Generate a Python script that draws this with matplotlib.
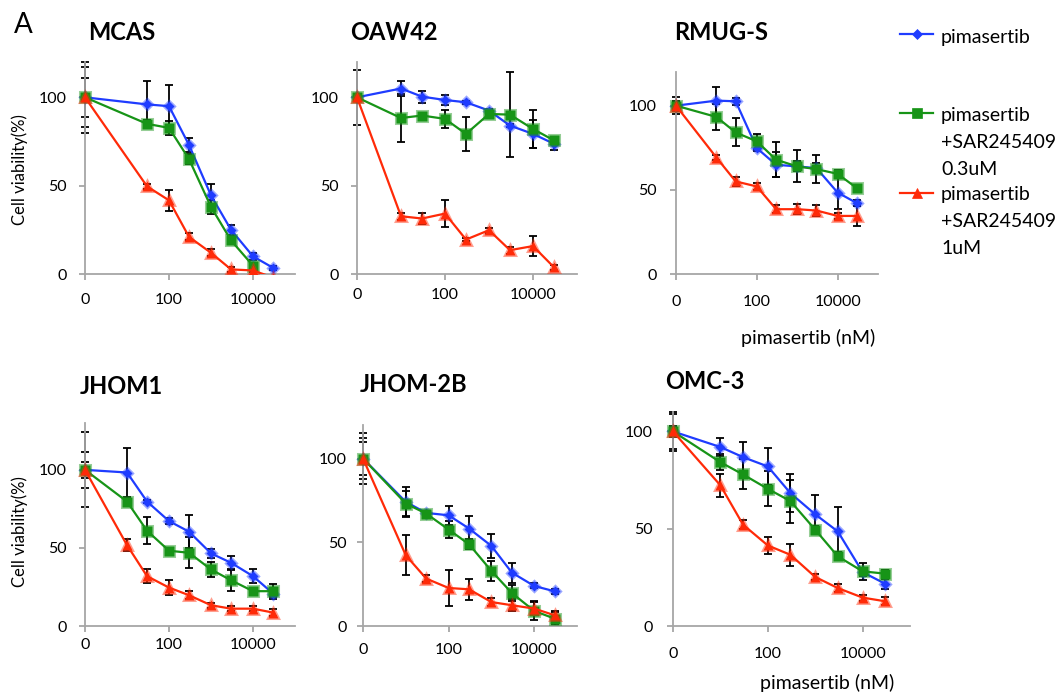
import matplotlib
matplotlib.use('Agg')
import numpy as np
import matplotlib.pyplot as plt
import matplotlib.colors as mcolors
from matplotlib.lines import Line2D
from matplotlib.patches import Rectangle

W, H = 1059, 695
plt.rcParams['font.family'] = ['Lato', 'DejaVu Sans']

# doses (nM); 0 is drawn at the left end of the log axis
doses = [0, 10, 30, 100, 300, 1000, 3000, 10000, 30000]
doses_mcas = [0, 30, 100, 300, 1000, 3000, 10000, 30000]

series_labels = ['pimasertib',
                 'pimasertib\n+SAR245409\n0.3uM',
                 'pimasertib\n+SAR245409\n1uM']
cell_lines = ['MCAS', 'OAW42', 'RMUG-S', 'JHOM1', 'JHOM-2B', 'OMC-3']

# cell viability (%) : pimasertib / +SAR 0.3uM / +SAR 1uM, with error bars
mcas_pim = [100, 96, 95, 73, 44.5, 25, 10, 3.5]
mcas_pim_err = [20, 13, 12, 4, 6.5, 3, 2, 1]
mcas_low = [100, 85, 82.7, 65, 38, 19, 4.7, np.nan]
mcas_low_err = [17, 2, 4, 3, 4, 2, 1, 0]
mcas_high = [100, 49.6, 41.7, 21, 12, 2.6, 2, -2]
mcas_high_err = [11, 1.5, 6, 2, 2, 1.5, 1, 0]

oaw42_pim = [100, 105, 100.4, 98.5, 97.2, 92.5, 84, 79.3, 73.7]
oaw42_pim_err = [15.4, 4, 3.4, 3, 1, 1, 1, 8, 3.7]
oaw42_low = [100, 88.3, 89.7, 87.8, 79.3, 90.6, 90.2, 82.1, 75.6]
oaw42_low_err = [2, 13.7, 1, 5, 9.5, 1, 24, 11, 1]
oaw42_high = [100, 32.7, 31.4, 34.2, 19.5, 24.8, 13.5, 15.8, 3.8]
oaw42_high_err = [2, 2, 3, 7.5, 1, 1.5, 2, 5.6, 1.5]

rmug_pim = [100, 103, 102.6, 74.8, 64.9, 63.9, 62.9, 48.4, 42.1]
rmug_pim_err = [5, 8, 2, 2, 7.5, 3, 3, 10, 2]
rmug_low = [100, 93.3, 84.1, 78.8, 67.9, 63.9, 62.3, 59.5, 51]
rmug_low_err = [3, 7.6, 8.3, 4.5, 10.3, 9.5, 8.2, 2.4, 2]
rmug_high = [100, 69.2, 55, 52, 38.5, 38.5, 37.7, 34.5, 34.5]
rmug_high_err = [2, 1.5, 2.5, 2, 2.5, 3, 3.5, 2, 6]

jhom1_pim = [100, 98.3, 79.7, 67.2, 60.4, 46.5, 40.5, 31.9, 20.8]
jhom1_pim_err = [24, 15.6, 1, 2, 10.6, 3, 4.5, 4.5, 2]
jhom1_low = [100, 79.7, 61, 48.2, 46.9, 36.2, 29.3, 22.3, 22.3]
jhom1_low_err = [11.5, 1, 8.5, 1, 10, 5, 7, 2, 4.7]
jhom1_high = [100, 51.8, 31.9, 24.6, 19.7, 13.3, 11.1, 11.1, 8.6]
jhom1_high_err = [5, 4, 4.5, 4.7, 2.5, 1.5, 1.5, 1.5, 2]

jhom2b_pim = [100, 74.1, 67.5, 66.1, 58.2, 47.8, 31.9, 23.9, 20.7]
jhom2b_pim_err = [15.3, 9, 1, 5.6, 7.7, 7, 6, 1.5, 1.5]
jhom2b_low = [100, 73.1, 67.1, 57.6, 48.8, 32.9, 19.7, 9, 4.4]
jhom2b_low_err = [12.4, 7.5, 1, 5, 3, 6, 5, 5.7, 4]
jhom2b_high = [100, 42.2, 28.3, 22.7, 21.9, 14.3, 12.4, 10.4, 6.4]
jhom2b_high_err = [10, 12, 2, 10.7, 6.4, 2.5, 3.5, 4, 2.5]

omc3_pim = [100, 92, 86.8, 82, 68.3, 57.4, 48.6, 27.7, 21.7]
omc3_pim_err = [10, 4.6, 8, 9.6, 9.6, 9.7, 12.5, 2, 2.5]
omc3_low = [100, 84.2, 77.9, 70.5, 64.2, 49.5, 35.8, 28.1, 26.9]
omc3_low_err = [9, 4, 7.7, 9, 11, 2, 2, 4.3, 2]
omc3_high = [100, 72.3, 52.1, 41.4, 36.6, 25.2, 19.5, 14.6, 12.7]
omc3_high_err = [3, 6, 2.2, 4.3, 5.8, 1.5, 2, 1.5, 2]

colors = ['#1f3cff', '#179417', '#ff2a08']
markers = ['D', 's', '^']
msizes = [5.5, 7.5, 7.5]

# panel boxes in pixels: left, top, right, bottom ; y max ; tick pads ; title spot
panels = [
    (cell_lines[0], doses_mcas, [(mcas_pim, mcas_pim_err), (mcas_low, mcas_low_err), (mcas_high, mcas_high_err)],
     (85, 62, 295, 274), 120, 9.4, 8.5, (88, 33)),
    (cell_lines[1], doses, [(oaw42_pim, oaw42_pim_err), (oaw42_low, oaw42_low_err), (oaw42_high, oaw42_high_err)],
     (357, 62, 577, 274), 120, 5.8, 8.5, (350, 33)),
    (cell_lines[2], doses, [(rmug_pim, rmug_pim_err), (rmug_low, rmug_low_err), (rmug_high, rmug_high_err)],
     (676, 72, 878, 274), 120, 10.8, 9.5, (674, 33)),
    (cell_lines[3], doses, [(jhom1_pim, jhom1_pim_err), (jhom1_low, jhom1_low_err), (jhom1_high, jhom1_high_err)],
     (85, 423, 295, 626), 130, 4.3, 8.5, (80, 387)),
    (cell_lines[4], doses, [(jhom2b_pim, jhom2b_pim_err), (jhom2b_low, jhom2b_low_err), (jhom2b_high, jhom2b_high_err)],
     (363, 425, 577, 626), 120, 7.9, 7.0, (360, 385)),
    (cell_lines[5], doses, [(omc3_pim, omc3_pim_err), (omc3_low, omc3_low_err), (omc3_high, omc3_high_err)],
     (673, 412, 910, 626), 110, 10.8, 10.0, (665, 382)),
]

axis_grey = '#a6a6a6'

fig = plt.figure(figsize=(W / 100, H / 100), dpi=100)


def clip_to(artist, ax):
    # clip below the x axis only, so points at dose 0 keep their full marker
    rect = Rectangle((-0.1, 0), 1.2, 1.3, transform=ax.transAxes)
    artist.set_clip_path(rect)


for name, d, data, box, ymax, xpad, ypad, title_xy in panels:
    l, t, r, b = box
    ax = fig.add_axes([l / W, 1 - b / H, (r - l) / W, (b - t) / H])
    x = [v if v > 0 else 1 for v in d]
    ax.set_xscale('log')
    ax.set_xlim(1, 1e5)
    ax.set_ylim(0, ymax)

    for i, (y, e) in enumerate(data):
        cont = ax.errorbar(x, y, yerr=e, fmt='none', ecolor='black', elinewidth=1.3,
                           capsize=3.2, capthick=1.3, zorder=2)
        for art in list(cont.lines[1]) + list(cont.lines[2]):
            clip_to(art, ax)
        c = colors[i]
        ln, = ax.plot(x, y, color=c, lw=1.6, marker=markers[i], ms=msizes[i],
                      mfc=c, mec=mcolors.to_rgba(c, 0.45), mew=2.2, zorder=3 + i)
        clip_to(ln, ax)

    for side in ['top', 'right']:
        ax.spines[side].set_visible(False)
    for side in ['left', 'bottom']:
        ax.spines[side].set_color(axis_grey)
        ax.spines[side].set_linewidth(1.3)

    ax.set_xticks([1, 100, 10000])
    ax.set_xticklabels(['0', '100', '10000'])
    ax.xaxis.set_minor_locator(matplotlib.ticker.NullLocator())
    ax.set_yticks([0, 50, 100])
    ax.tick_params(axis='x', length=4, width=1.3, color=axis_grey, pad=xpad, labelsize=11.5)
    ax.tick_params(axis='y', length=4.5, width=1.3, color=axis_grey, pad=ypad, labelsize=11.5)

    fig.text(title_xy[0] / W, 1 - title_xy[1] / H, name, fontsize=17, fontweight='bold',
             ha='left', va='center')

fig.text(14 / W, 1 - 25 / H, 'A', fontsize=20, ha='left', va='center')

for yc in [170, 532]:
    fig.text(20 / W, 1 - yc / H, 'Cell viability(%)', rotation=90, fontsize=12,
             ha='center', va='center')

for xc, yc in [(808, 338), (827, 683)]:
    fig.text(xc / W, 1 - yc / H, 'pimasertib (nM)', fontsize=14, ha='center', va='center')

# legend, drawn by hand so the marker sits on the first text line
leg_y = [34, 113, 193]
leg_base = [43, 121, 200]
line_step = 27
for i, lab in enumerate(series_labels):
    yy = 1 - leg_y[i] / H
    c = colors[i]
    fig.add_artist(Line2D([900 / W, 933 / W], [yy, yy], color=c, lw=1.6))
    fig.add_artist(Line2D([916.5 / W], [yy], marker=markers[i], ms=msizes[i], color=c,
                          mec=c, mew=0.5))
    for k, part in enumerate(lab.split('\n')):
        fig.text(941 / W, 1 - (leg_base[i] + k * line_step) / H, part, fontsize=14,
                 ha='left', va='baseline')

fig.savefig('out.png', dpi=100)
